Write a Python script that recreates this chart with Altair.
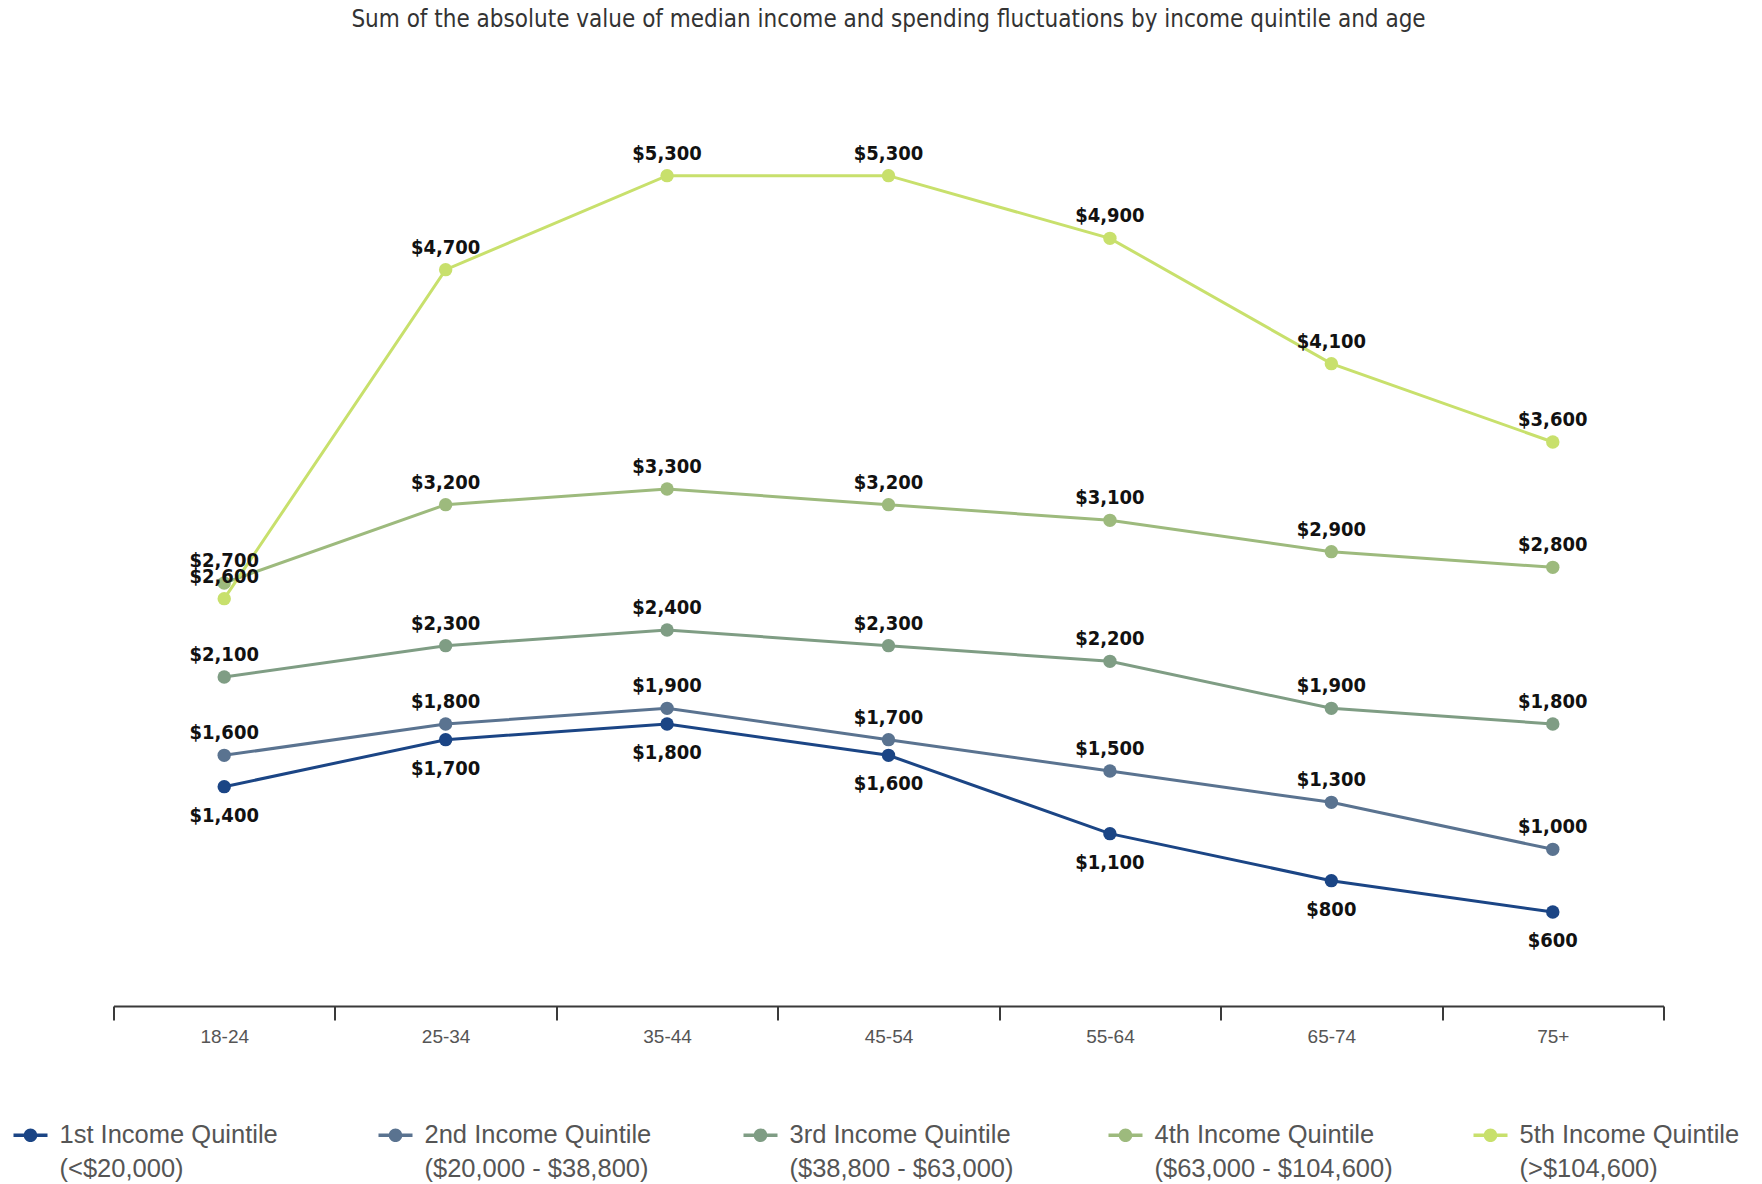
import altair as alt
import pandas as pd

# Age groups along the x axis
ages = ["18-24", "25-34", "35-44", "45-54", "55-64", "65-74", "75+"]

# Sum of absolute median income and spending fluctuations ($) per quintile
q1 = [1400, 1700, 1800, 1600, 1100, 800, 600]
q2 = [1600, 1800, 1900, 1700, 1500, 1300, 1000]
q3 = [2100, 2300, 2400, 2300, 2200, 1900, 1800]
q4 = [2700, 3200, 3300, 3200, 3100, 2900, 2800]
q5 = [2600, 4700, 5300, 5300, 4900, 4100, 3600]

names = [
    "1st Income Quintile",
    "2nd Income Quintile",
    "3rd Income Quintile",
    "4th Income Quintile",
    "5th Income Quintile",
]
brackets = [
    "(<$20,000)",
    "($20,000 - $38,800)",
    "($38,800 - $63,000)",
    "($63,000 - $104,600)",
    "(>$104,600)",
]
colors = ["#1b4585", "#5a7390", "#7f9d84", "#9dba7d", "#c8e06c"]

series = [q1, q2, q3, q4, q5]
keys = [f"{n}|{b}" for n, b in zip(names, brackets)]

rows = []
for i, (key, vals) in enumerate(zip(keys, series)):
    for age, v in zip(ages, vals):
        rows.append({"age": age, "value": v, "quintile": key, "order": i, "below": i == 0})
df = pd.DataFrame(rows)

LABEL_FONT = "Liberation Sans Narrow, Arial Narrow, Liberation Sans, Arial, sans-serif"
VALUE_FONT = "DejaVu Sans Condensed, DejaVu Sans, sans-serif"

# custom legend glyph: short line with a dot in the middle
glyph = (
    "M-1,-0.1 L1,-0.1 L1,0.1 L-1,0.1 Z "
    "M0.4,0 A0.4,0.4 0 1,1 -0.4,0 A0.4,0.4 0 1,1 0.4,0 Z"
)

legend = alt.Legend(
    title=None,
    orient="none",
    legendX=-100,
    legendY=1052,
    direction="horizontal",
    columns=5,
    gridAlign="all",
    columnPadding=80,
    symbolType=glyph,
    symbolSize=1156,
    symbolStrokeWidth=0,
    symbolOpacity=1,
    labelExpr="split(datum.label, '|')",
    labelFont=LABEL_FONT,
    labelFontSize=25.5,
    labelColor="#555555",
    labelOffset=12,
    labelLimit=400,
)

x_enc = alt.X(
    "age:N",
    sort=ages,
    bandPosition=0.5,
    scale=alt.Scale(type="band", paddingInner=0, paddingOuter=0),
    axis=alt.Axis(
        title=None,
        tickBand="extent",
        domainColor="#3a3a3a",
        domainWidth=2,
        tickColor="#3a3a3a",
        tickWidth=2,
        tickSize=14,
        labelFont=LABEL_FONT,
        labelFontSize=19,
        labelColor="#555555",
        labelPadding=7,
        labelAngle=0,
        grid=False,
    ),
)
y_enc = alt.Y("value:Q", scale=alt.Scale(domain=[0, 6000]), axis=None)
color_enc = alt.Color("quintile:N", scale=alt.Scale(domain=keys, range=colors), legend=legend)

base = alt.Chart(df).encode(x=x_enc, y=y_enc)

lines = base.mark_line(strokeWidth=3).encode(color=color_enc, order="order:Q")
points = base.mark_circle(size=180, opacity=1).encode(color=color_enc)

value_text = alt.Text("value:Q", format="$,.0f")
labels_above = base.transform_filter("!datum.below").mark_text(
    dy=-22, font=VALUE_FONT, fontWeight="bold", fontSize=20, color="#111111"
).encode(text=value_text)
labels_below = base.transform_filter("datum.below").mark_text(
    dy=29, font=VALUE_FONT, fontWeight="bold", fontSize=20, color="#111111"
).encode(text=value_text)

chart = (
    alt.layer(lines, points, labels_above, labels_below)
    .properties(
        width=1550,
        height=940,
        autosize="none",
        background="white",
        padding={"left": 113.5, "top": 66, "right": 98.5, "bottom": 178},
        title=alt.Title(
            "Sum of the absolute value of median income and spending fluctuations by income quintile and age",
            font=VALUE_FONT,
            fontSize=24,
            fontWeight="normal",
            color="#333333",
            anchor="middle",
            offset=34,
        ),
    )
    .configure(
        view=alt.ViewConfig(strokeWidth=0, stroke="transparent"),
        style={"guide-label": {"lineHeight": 34}},
    )
)

chart.save("out.html", embed_options={"renderer": "svg", "actions": False})
